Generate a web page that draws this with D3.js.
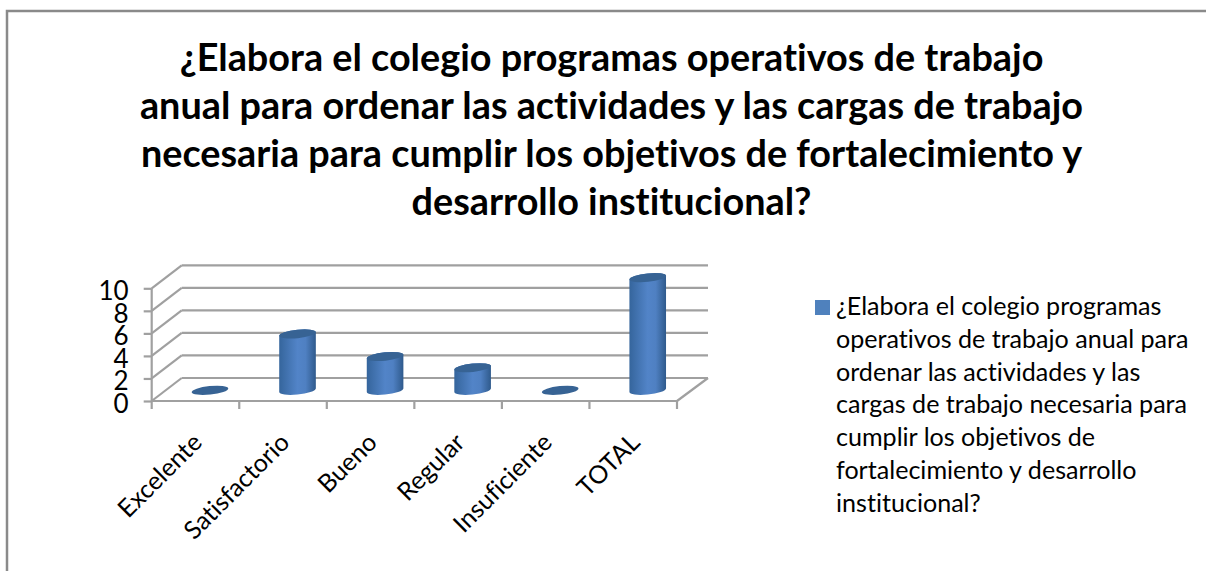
<!DOCTYPE html>
<html><head><meta charset="utf-8">
<script src="https://cdn.jsdelivr.net/npm/d3@7"></script>
<style>html,body{margin:0;padding:0;background:#fff;overflow:hidden}svg{display:block}text{font-family:Lato,"Open Sans",sans-serif;fill:#000;font-variant-ligatures:none;font-feature-settings:"liga" 0,"dlig" 0}</style>
</head><body><svg id="c" width="1206" height="571"></svg>
<script>
const categories=["Excelente","Satisfactorio","Bueno","Regular","Insuficiente","TOTAL"];
const values=[0,5,3,2,0,10];
const yTicks=[0,2,4,6,8,10];
const titleLines=["¿Elabora el colegio programas operativos de trabajo","anual para ordenar las actividades y las cargas de trabajo","necesaria para cumplir los objetivos de fortalecimiento y","desarrollo institucional?"];
const legendLines=["¿Elabora el colegio programas","operativos de trabajo anual para","ordenar las actividades y las","cargas de trabajo necesaria para","cumplir los objetivos de","fortalecimiento y desarrollo","institucional?"];

const svg=d3.select("#c");
const defs=svg.append("defs");
const g=defs.append("linearGradient").attr("id","cyl");
[[0,"#35659c"],[.5,"#5284c8"],[.72,"#4f80c2"],[1,"#2f5a8c"]].forEach(s=>g.append("stop").attr("offset",s[0]).attr("stop-color",s[1]));

// frame
svg.append("path").attr("d","M7,571V11H1206").attr("fill","none").attr("stroke","#8a8a8a").attr("stroke-width",2.5);

// title
svg.append("g").selectAll("text").data(titleLines).join("text")
 .attr("x",611.5).attr("y",(d,i)=>71+i*48).attr("text-anchor","middle")
 .attr("font-size",37.8).attr("font-weight",700).text(d=>d);

const x=d3.scaleBand().domain(categories).range([151.7,677]);
const y=d3.scaleLinear().domain([0,10]).range([401,288.3]);
const dx=30,dy=-23;
const grid="#a0a0a0";
const gr=svg.append("g").attr("fill","none").attr("stroke",grid).attr("stroke-width",2.2);
yTicks.forEach(t=>{
 gr.append("line").attr("x1",x.range()[0]+dx).attr("x2",x.range()[1]+dx+1).attr("y1",y(t)+dy).attr("y2",y(t)+dy);
 gr.append("line").attr("x1",x.range()[0]).attr("x2",x.range()[0]+dx).attr("y1",y(t)).attr("y2",y(t)+dy);
});
gr.append("line").attr("x1",x.range()[1]).attr("x2",x.range()[1]+dx+1).attr("y1",y(0)).attr("y2",y(0)+dy);
gr.append("line").attr("x1",x.range()[0]).attr("x2",x.range()[1]).attr("y1",y(0)).attr("y2",y(0));
gr.append("line").attr("x1",x.range()[0]).attr("x2",x.range()[0]).attr("y1",y(0)).attr("y2",y(10));
const boundaries=categories.map(c=>x(c)).concat([x.range()[1]]);
gr.selectAll(".t").data(boundaries).join("line").attr("x1",d=>d).attr("x2",d=>d).attr("y1",y(0)).attr("y2",y(0)+8);

// y axis
const ax=svg.append("g").attr("transform",`translate(${x.range()[0]},0)`)
 .call(d3.axisLeft(y).tickValues(yTicks).tickSize(8).tickPadding(15).tickFormat(d3.format("d")));
ax.select(".domain").remove();
ax.selectAll("line").attr("stroke",grid).attr("stroke-width",2.2);
ax.selectAll("text").attr("font-size",26).attr("fill","#000").attr("dy","0.44em").style("font-family","Lato,sans-serif");

// category labels
svg.append("g").selectAll("text").data(categories).join("text")
 .attr("text-anchor","end").attr("font-size",25)
 .attr("transform",d=>`translate(${x(d)+x.bandwidth()/2+8},${y(0)+43}) rotate(-45)`)
 .text(d=>d);

// cylinders
const rx=18.4,ry=4.2,rot=-6,off=14.5,baseY=y(0)-10.7;
const a=rot*Math.PI/180;
const tx=Math.hypot(rx*Math.cos(a),ry*Math.sin(a));
const ty=(rx*rx-ry*ry)*Math.sin(a)*Math.cos(a)/tx;
const bars=svg.append("g").selectAll("g").data(categories.map((c,i)=>({c,v:values[i]}))).join("g")
 .attr("transform",d=>`translate(${x(d.c)+x.bandwidth()/2+off},${baseY})`);
bars.filter(d=>d.v>0).append("path").attr("fill","url(#cyl)")
 .attr("d",d=>{const h=y(0)-y(d.v);
   return `M${-tx},${-ty-h}L${-tx},${-ty}A${rx},${ry} ${rot} 0 0 ${tx},${ty}L${tx},${ty-h}A${rx},${ry} ${rot} 0 0 ${-tx},${-ty-h}Z`;});
bars.append("ellipse").attr("rx",rx).attr("ry",ry).attr("fill","#376394")
 .attr("transform",d=>`translate(0,${y(d.v)-y(0)}) rotate(${rot})`);

// legend
svg.append("rect").attr("x",815).attr("y",300).attr("width",15).attr("height",15).attr("fill","#4f81bd");
svg.append("g").selectAll("text").data(legendLines).join("text")
 .attr("x",836).attr("y",(d,i)=>315+i*32.8).attr("font-size",25.1).text(d=>d);
</script></body></html>
